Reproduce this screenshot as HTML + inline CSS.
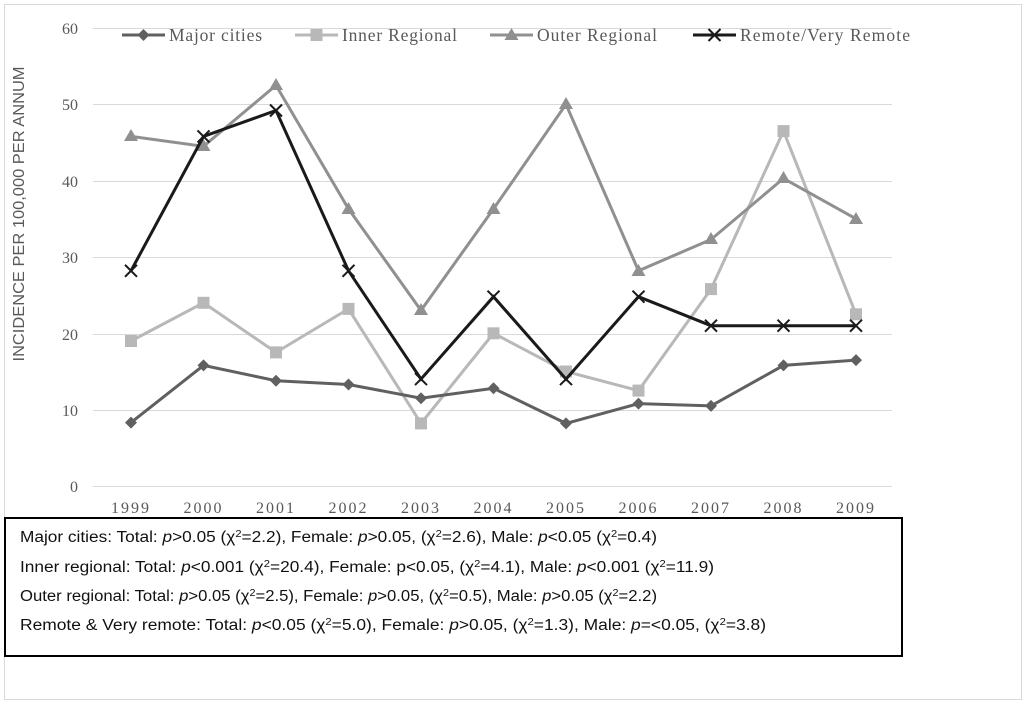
<!DOCTYPE html>
<html><head><meta charset="utf-8"><style>
body{margin:0;background:#fff;}
.t{font-family:"Liberation Serif",serif;}
</style></head><body>
<svg width="1029" height="705" xmlns="http://www.w3.org/2000/svg">
<rect x="4.5" y="4.5" width="1017" height="695" fill="none" stroke="#d9d9d9" stroke-width="1"/>
<g stroke="#d9d9d9" stroke-width="1">
<line x1="93" x2="892" y1="28.5" y2="28.5"/><line x1="93" x2="892" y1="104.5" y2="104.5"/>
<line x1="93" x2="892" y1="181.5" y2="181.5"/><line x1="93" x2="892" y1="257.5" y2="257.5"/>
<line x1="93" x2="892" y1="334.5" y2="334.5"/><line x1="93" x2="892" y1="410.5" y2="410.5"/>
<line x1="93" x2="892" y1="486.5" y2="486.5"/>
</g>
<g class="t" font-size="16" fill="#595959" text-anchor="end">
<text x="78" y="34">60</text><text x="78" y="110">50</text><text x="78" y="187">40</text>
<text x="78" y="263">30</text><text x="78" y="340">20</text><text x="78" y="416">10</text><text x="78" y="492">0</text>
</g>
<g class="t" font-size="16" fill="#595959" text-anchor="middle" letter-spacing="2">
<text x="131" y="513">1999</text><text x="203.5" y="513">2000</text><text x="276" y="513">2001</text>
<text x="348.5" y="513">2002</text><text x="421" y="513">2003</text><text x="493.5" y="513">2004</text>
<text x="566" y="513">2005</text><text x="638.5" y="513">2006</text><text x="711" y="513">2007</text>
<text x="783.5" y="513">2008</text><text x="856" y="513">2009</text>
</g>
<text transform="translate(24,214) rotate(-90)" text-anchor="middle" font-family="Liberation Sans,sans-serif" font-size="16" fill="#595959" textLength="295" lengthAdjust="spacingAndGlyphs">INCIDENCE PER 100,000 PER ANNUM</text>
<!-- Inner -->
<polyline fill="none" stroke="#b8b8b8" stroke-width="3" points="131,341 203.5,302.8 276,352.4 348.5,308.9 421,423.4 493.5,333.3 566,371.5 638.5,390.6 711,289.1 783.5,131.1 856,314.3"/>
<g fill="#b8b8b8">
<rect x="125" y="335" width="12" height="12"/><rect x="197.5" y="296.8" width="12" height="12"/><rect x="270" y="346.4" width="12" height="12"/><rect x="342.5" y="302.9" width="12" height="12"/><rect x="415" y="417.4" width="12" height="12"/><rect x="487.5" y="327.3" width="12" height="12"/><rect x="560" y="365.5" width="12" height="12"/><rect x="632.5" y="384.6" width="12" height="12"/><rect x="705" y="283.1" width="12" height="12"/><rect x="777.5" y="125.1" width="12" height="12"/><rect x="850" y="308.3" width="12" height="12"/>
</g>
<!-- Outer -->
<polyline fill="none" stroke="#909090" stroke-width="3" points="131,136.4 203.5,146.3 276,85.3 348.5,208.9 421,310.4 493.5,208.9 566,104.3 638.5,270.8 711,239.5 783.5,178.4 856,218.8"/>
<g fill="#909090">
<path d="M131,129l7,12h-14z"/><path d="M203.5,139l7,12h-14z"/><path d="M276,78l7,12h-14z"/><path d="M348.5,202l7,12h-14z"/><path d="M421,303l7,12h-14z"/><path d="M493.5,202l7,12h-14z"/><path d="M566,97l7,12h-14z"/><path d="M638.5,264l7,12h-14z"/><path d="M711,232l7,12h-14z"/><path d="M783.5,171l7,12h-14z"/><path d="M856,212l7,12h-14z"/>
</g>
<!-- Major -->
<polyline fill="none" stroke="#606060" stroke-width="3" points="131,422.6 203.5,365.4 276,380.7 348.5,384.5 421,398.2 493.5,388.3 566,423.4 638.5,403.6 711,405.9 783.5,365.4 856,360.1"/>
<g fill="#606060">
<path d="M131,416.6l6,6l-6,6l-6,-6z"/><path d="M203.5,359.4l6,6l-6,6l-6,-6z"/><path d="M276,374.7l6,6l-6,6l-6,-6z"/><path d="M348.5,378.5l6,6l-6,6l-6,-6z"/><path d="M421,392.2l6,6l-6,6l-6,-6z"/><path d="M493.5,382.3l6,6l-6,6l-6,-6z"/><path d="M566,417.4l6,6l-6,6l-6,-6z"/><path d="M638.5,397.6l6,6l-6,6l-6,-6z"/><path d="M711,399.9l6,6l-6,6l-6,-6z"/><path d="M783.5,359.4l6,6l-6,6l-6,-6z"/><path d="M856,354.1l6,6l-6,6l-6,-6z"/>
</g>
<!-- Remote -->
<polyline fill="none" stroke="#1a1a1a" stroke-width="3" points="131,270.8 203.5,136.4 276,110.5 348.5,270.8 421,379.1 493.5,296.7 566,379.1 638.5,296.7 711,325.7 783.5,325.7 856,325.7"/>
<g stroke="#1a1a1a" stroke-width="2" fill="none">
<path d="M125,264.8l12,12M137,264.8l-12,12"/><path d="M197.5,130.4l12,12M209.5,130.4l-12,12"/><path d="M270,104.5l12,12M282,104.5l-12,12"/><path d="M342.5,264.8l12,12M354.5,264.8l-12,12"/><path d="M415,373.1l12,12M427,373.1l-12,12"/><path d="M487.5,290.7l12,12M499.5,290.7l-12,12"/><path d="M560,373.1l12,12M572,373.1l-12,12"/><path d="M632.5,290.7l12,12M644.5,290.7l-12,12"/><path d="M705,319.7l12,12M717,319.7l-12,12"/><path d="M777.5,319.7l12,12M789.5,319.7l-12,12"/><path d="M850,319.7l12,12M862,319.7l-12,12"/>
</g>
<!-- Legend -->
<line x1="122" x2="165" y1="35" y2="35" stroke="#606060" stroke-width="3"/><path d="M143.5,29l6,6l-6,6l-6,-6z" fill="#606060"/>
<text class="t" x="169" y="41" font-size="17.5" fill="#595959" textLength="93">Major cities</text>
<line x1="295" x2="338" y1="35" y2="35" stroke="#b8b8b8" stroke-width="3"/><rect x="310.5" y="29" width="12" height="12" fill="#b8b8b8"/>
<text class="t" x="342" y="41" font-size="17.5" fill="#595959" textLength="115">Inner Regional</text>
<line x1="490" x2="533" y1="35" y2="35" stroke="#909090" stroke-width="3"/><path d="M511.5,28l7,12h-14z" fill="#909090"/>
<text class="t" x="537" y="41" font-size="17.5" fill="#595959" textLength="120">Outer Regional</text>
<line x1="693" x2="736" y1="35" y2="35" stroke="#1a1a1a" stroke-width="3"/><path d="M708.5,29l12,12M720.5,29l-12,12" stroke="#1a1a1a" stroke-width="2"/>
<text class="t" x="740" y="41" font-size="17.5" fill="#595959" textLength="170">Remote/Very Remote</text>
<!-- Box -->
<rect x="5" y="518" width="897" height="138" fill="#fff" stroke="#000" stroke-width="2"/>
<g font-family="Liberation Sans,sans-serif" font-size="15.5" fill="#111">
<text x="20" y="542" textLength="637" lengthAdjust="spacingAndGlyphs">Major cities: Total: <tspan font-style="italic">p</tspan>&gt;0.05 (χ<tspan font-size="10" dy="-5">2</tspan><tspan dy="5">=2.2), Female: </tspan><tspan font-style="italic">p</tspan>&gt;0.05, (χ<tspan font-size="10" dy="-5">2</tspan><tspan dy="5">=2.6), Male: </tspan><tspan font-style="italic">p</tspan>&lt;0.05 (χ<tspan font-size="10" dy="-5">2</tspan><tspan dy="5">=0.4)</tspan></text>
<text x="20" y="572" textLength="694" lengthAdjust="spacingAndGlyphs">Inner regional: Total: <tspan font-style="italic">p</tspan>&lt;0.001 (χ<tspan font-size="10" dy="-5">2</tspan><tspan dy="5">=20.4), Female: p&lt;0.05, (χ</tspan><tspan font-size="10" dy="-5">2</tspan><tspan dy="5">=4.1), Male: </tspan><tspan font-style="italic">p</tspan>&lt;0.001 (χ<tspan font-size="10" dy="-5">2</tspan><tspan dy="5">=11.9)</tspan></text>
<text x="20" y="601" textLength="637" lengthAdjust="spacingAndGlyphs">Outer regional: Total: <tspan font-style="italic">p</tspan>&gt;0.05 (χ<tspan font-size="10" dy="-5">2</tspan><tspan dy="5">=2.5), Female: </tspan><tspan font-style="italic">p</tspan>&gt;0.05, (χ<tspan font-size="10" dy="-5">2</tspan><tspan dy="5">=0.5), Male: </tspan><tspan font-style="italic">p</tspan>&gt;0.05 (χ<tspan font-size="10" dy="-5">2</tspan><tspan dy="5">=2.2)</tspan></text>
<text x="20" y="630" textLength="746" lengthAdjust="spacingAndGlyphs">Remote &amp; Very remote: Total: <tspan font-style="italic">p</tspan>&lt;0.05 (χ<tspan font-size="10" dy="-5">2</tspan><tspan dy="5">=5.0), Female: </tspan><tspan font-style="italic">p</tspan>&gt;0.05, (χ<tspan font-size="10" dy="-5">2</tspan><tspan dy="5">=1.3), Male: </tspan><tspan font-style="italic">p</tspan>=&lt;0.05, (χ<tspan font-size="10" dy="-5">2</tspan><tspan dy="5">=3.8)</tspan></text>
</g>
</svg>
</body></html>
